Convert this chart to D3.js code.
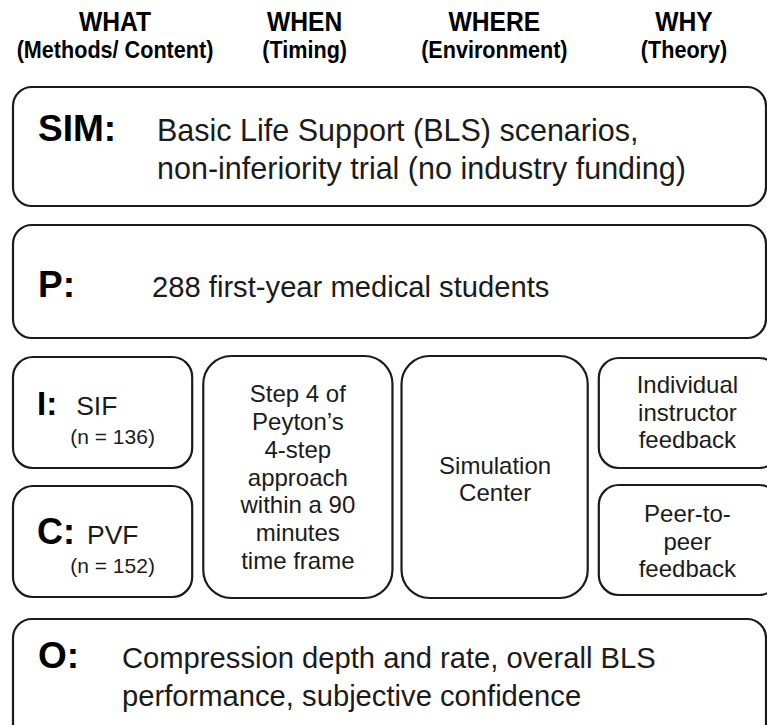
<!DOCTYPE html>
<html>
<head>
<meta charset="utf-8">
<script src="https://cdn.jsdelivr.net/npm/d3@7"></script>
<style>
html, body { margin: 0; padding: 0; background: #fff; overflow: hidden; }
svg { display: block; font-family: "Liberation Sans", Arial, sans-serif; }
</style>
</head>
<body>
<svg width="767" height="725"></svg>
<script>
// column headers
var headers = ["WHAT", "WHEN", "WHERE", "WHY"];
var subHeaders = ["(Methods/ Content)", "(Timing)", "(Environment)", "(Theory)"];

// full-width rows
var rowKeys = ["SIM", "P", "O"];
var rowLabels = ["SIM:", "P:", "O:"];
var rowText = [
    ["Basic Life Support (BLS) scenarios,", "non-inferiority trial (no industry funding)"],
    ["288 first-year medical students"],
    ["Compression depth and rate, overall BLS", "performance, subjective confidence"]
];

// intervention / comparison groups
var groupLabels = ["I:", "C:"];
var groupNames = ["SIF", "PVF"];
var groupN = [136, 152];

var timingLines = ["Step 4 of", "Peyton\u2019s", "4-step", "approach", "within a 90", "minutes", "time frame"];
var environmentLines = ["Simulation", "Center"];
var theoryLines = [["Individual", "instructor", "feedback"], ["Peer-to-", "peer", "feedback"]];

var svg = d3.select("svg"),
    width = 767,
    height = 725,
    g = svg.append("g");

var ink = "#1b1b1b";

// layout
var x = d3.scaleBand()
    .domain(headers)
    .range([13, 779])
    .paddingInner(0.057);

var hx = d3.scalePoint()
    .domain(headers)
    .range([115, 684]);

var rowY = {SIM: [87, 206], P: [225, 338], O: [619, 742]};
var mid = [356, 598];
var half = [[357, 468], [486, 597]];

function box(x0, y0, x1, y1, r) {
    return g.append("rect")
        .attr("x", x0)
        .attr("y", y0)
        .attr("width", x1 - x0)
        .attr("height", y1 - y0)
        .attr("rx", r)
        .attr("ry", r)
        .attr("fill", "#fff")
        .attr("stroke", ink)
        .attr("stroke-width", 2.2);
}

// centred block of lines inside a box
function lines(list, cx, y0, y1, size, lh) {
    var cy = (y0 + y1) / 2,
        first = cy - (list.length - 1) * lh / 2 + size * 0.716 / 2;
    g.append("g")
        .attr("font-size", size)
        .attr("fill", ink)
        .attr("text-anchor", "middle")
        .selectAll("text")
        .data(list)
        .enter().append("text")
        .attr("x", cx)
        .attr("y", function(d, i) { return first + i * lh; })
        .text(function(d) { return d; });
}

// headers (narrow bold face in the original)
var head = g.append("g")
    .attr("text-anchor", "middle")
    .attr("font-weight", "bold")
    .attr("fill", "#000");

head.selectAll(".h1")
    .data(headers)
    .enter().append("text")
    .attr("class", "h1")
    .attr("transform", function(d) { return "translate(" + hx(d) + ",31) scale(0.88,1)"; })
    .attr("font-size", 28)
    .text(function(d) { return d; });

head.selectAll(".h2")
    .data(subHeaders)
    .enter().append("text")
    .attr("class", "h2")
    .attr("transform", function(d, i) { return "translate(" + hx(headers[i]) + ",58) scale(0.9,1)"; })
    .attr("font-size", 24)
    .text(function(d) { return d; });

// full rows: SIM, P, O
var textX = {SIM: 157, P: 152, O: 122};
var textSize = {SIM: 30.5, P: 29.2, O: 29.2};
rowKeys.forEach(function(k, i) {
    var yy = rowY[k];
    box(13, yy[0], 766, yy[1], 19);
    var base = k === "O" ? yy[0] + 49 : (k === "P" ? yy[0] + 72 : yy[0] + 54);
    g.append("text")
        .attr("x", 38)
        .attr("y", base)
        .attr("font-size", 37)
        .attr("font-weight", "bold")
        .attr("fill", "#000")
        .text(rowLabels[i]);
    g.append("g")
        .attr("font-size", textSize[k])
        .attr("fill", ink)
        .selectAll("text")
        .data(rowText[i])
        .enter().append("text")
        .attr("x", textX[k])
        .attr("y", function(d, j) { return base + j * 38; })
        .text(function(d) { return d; });
});

// WHAT column: I and C boxes
groupLabels.forEach(function(lab, i) {
    var x0 = x("WHAT"), x1 = x("WHAT") + x.bandwidth() - 4,
        yy = half[i],
        base = (yy[0] + yy[1]) / 2 + 2;
    box(x0, yy[0], x1, yy[1], 20);
    var t = g.append("text")
        .attr("x", 37)
        .attr("y", base)
        .attr("fill", ink);
    t.append("tspan")
        .attr("font-size", i === 0 ? 33 : 36)
        .attr("font-weight", "bold")
        .attr("fill", "#000")
        .text(lab);
    t.append("tspan")
        .attr("font-size", 26.5)
        .attr("dx", i === 0 ? 19 : 12)
        .text(groupNames[i]);
    g.append("text")
        .attr("x", (x0 + x1) / 2 + 10)
        .attr("y", base + 29)
        .attr("font-size", 21)
        .attr("text-anchor", "middle")
        .attr("fill", ink)
        .text("(n = " + groupN[i] + ")");
});

// WHEN column
box(x("WHEN") - 4, mid[0], x("WHEN") + x.bandwidth() + 2, mid[1], 28);
lines(timingLines, x("WHEN") + x.bandwidth() / 2 - 1, mid[0], mid[1], 24, 27.8);

// WHERE column
box(x("WHERE"), mid[0], x("WHERE") + x.bandwidth() + 3, mid[1], 28);
lines(environmentLines, x("WHERE") + x.bandwidth() / 2 + 2, mid[0], mid[1] + 4, 24, 27);

// WHY column
theoryLines.forEach(function(l, i) {
    var yy = half[i];
    box(x("WHY") + 3, yy[0] + (i ? -1 : 1), x("WHY") + x.bandwidth(), yy[1] - (i ? 2 : 0), 20);
    lines(l, x("WHY") + x.bandwidth() / 2, yy[0], yy[1] - 1, 24, 27.6);
});
</script>
</body>
</html>
